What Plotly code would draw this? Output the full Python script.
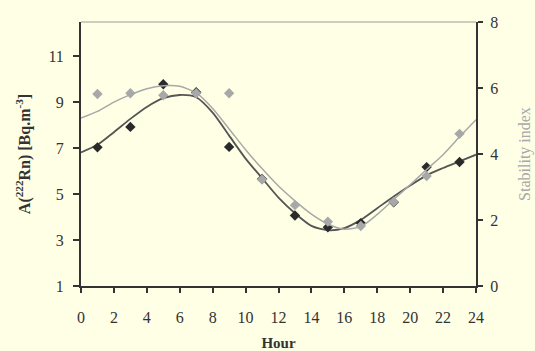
import plotly.graph_objects as go

# Observed points
hours_pts = [1, 3, 5, 7, 9, 11, 13, 15, 17, 19, 21, 23]
radon_pts = [7.04, 7.93, 9.79, 9.44, 7.06, 5.66, 4.07, 3.56, 3.74, 4.65, 6.18, 6.40]
stab_pts = [5.82, 5.84, 5.78, 5.84, 5.84, 3.23, 2.45, 1.95, 1.82, 2.55, 3.33, 4.61]

# Fitted curves
hours_fit = list(range(0, 25))
radon_fit = [6.82, 7.15, 7.7, 8.28, 8.8, 9.18, 9.32, 9.22, 8.55, 7.55, 6.55, 5.7, 4.85,
             4.17, 3.62, 3.43, 3.52, 3.88, 4.39, 4.9, 5.38, 5.82, 6.14, 6.43, 6.72]
stab_fit = [5.09, 5.29, 5.57, 5.80, 5.98, 6.07, 6.05, 5.85, 5.38, 4.76, 4.13, 3.56, 3.03,
            2.58, 2.18, 1.88, 1.72, 1.80, 2.17, 2.62, 3.07, 3.53, 3.98, 4.52, 5.04]

x_ticks = list(range(0, 25, 2))
left_ticks = [1, 3, 5, 7, 9, 11]
right_ticks = [0, 2, 4, 6, 8]

BG = "#FFFFE6"
DARK = "#333333"
GRAY = "#A8A8A8"
FONT = "Liberation Serif"

fig = go.Figure()
fig.add_trace(go.Scatter(x=hours_fit, y=stab_fit, mode="lines", yaxis="y2",
                         line=dict(color=GRAY, width=1.5, shape="spline", smoothing=0.7),
                         showlegend=False))
fig.add_trace(go.Scatter(x=hours_fit, y=radon_fit, mode="lines",
                         line=dict(color="#555555", width=1.8, shape="spline", smoothing=0.7),
                         showlegend=False))
fig.add_trace(go.Scatter(x=hours_pts, y=stab_pts, mode="markers", yaxis="y2",
                         marker=dict(symbol="diamond", size=8, color=GRAY), showlegend=False))
fig.add_trace(go.Scatter(x=hours_pts, y=radon_pts, mode="markers",
                         marker=dict(symbol="diamond", size=8, color="#2a2a2a"), showlegend=False))

fig.update_layout(
    width=535, height=351,
    margin=dict(l=81, r=59, t=22, b=65),
    paper_bgcolor=BG, plot_bgcolor=BG,
    font=dict(family=FONT, size=16, color=DARK),
    xaxis=dict(range=[0, 24], tickvals=x_ticks, ticks="outside", ticklen=5, tickwidth=1.5,
               tickcolor=DARK, showline=True, linecolor=DARK, linewidth=2, showgrid=False,
               zeroline=False, ticklabelstandoff=11, automargin=False,
               title=dict(text="<b>Hour</b>", standoff=14, font=dict(size=15))),
    yaxis=dict(range=[1, 12.5], tickvals=left_ticks, ticks="outside", ticklen=6, tickwidth=1.5,
               tickcolor=DARK, showline=True, linecolor=DARK, linewidth=2, showgrid=False,
               zeroline=False, ticklabelstandoff=6, automargin=False,
               title=dict(text="<b>A(<sup>222</sup>Rn) [Bq.m<sup>-3</sup>]</b>", standoff=14,
                          font=dict(size=16))),
    yaxis2=dict(range=[0, 8], tickvals=right_ticks, overlaying="y", side="right",
                ticks="outside", ticklen=5, tickwidth=1.5, tickcolor=DARK, showline=True,
                linecolor=DARK, linewidth=2, showgrid=False, zeroline=False,
                ticklabelstandoff=4, automargin=False,
                title=dict(text="Stability index", standoff=22, font=dict(size=16, color=GRAY))),
    shapes=[dict(type="line", xref="paper", yref="paper", x0=0, x1=1, y0=1, y1=1,
                 line=dict(color="#999999", width=1))],
)

fig.write_html("out.html")
